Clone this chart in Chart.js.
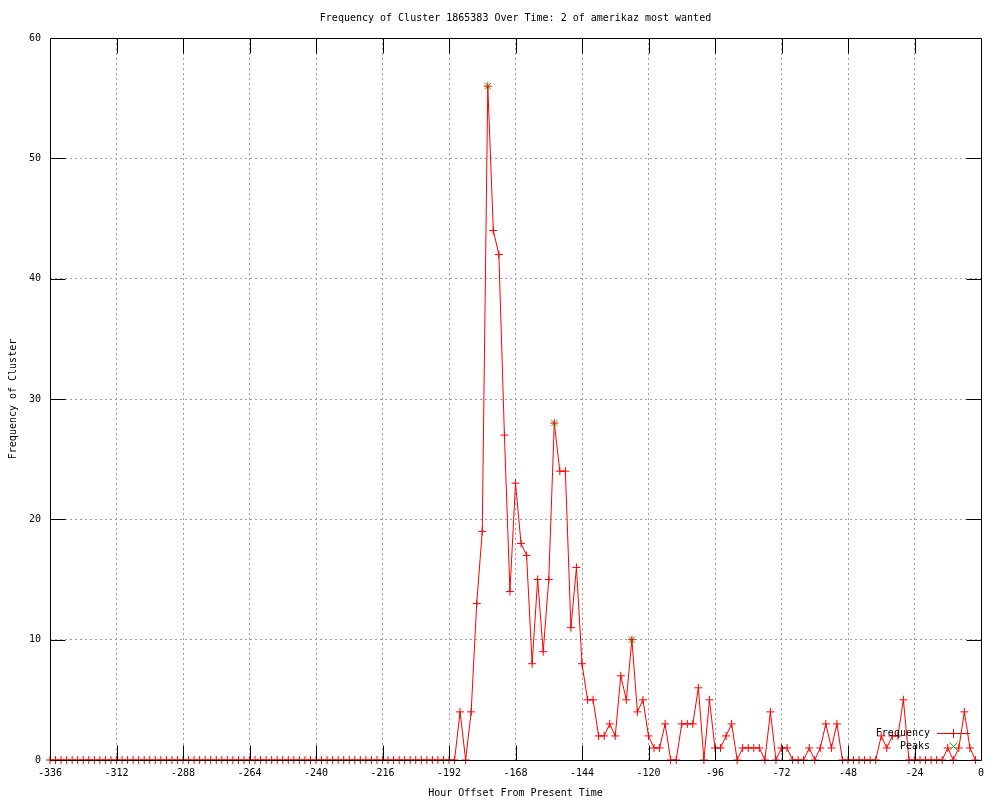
<!DOCTYPE html>
<html>
<head>
<meta charset="utf-8">
<title>Frequency of Cluster 1865383</title>
<script src="https://cdn.jsdelivr.net/npm/chart.js@4.4.1/dist/chart.umd.min.js"></script>
<style>
  html, body { margin: 0; padding: 0; background: #fff; }
  canvas { display: block; }
</style>
</head>
<body>
<canvas id="cluster-chart" width="1000" height="800"></canvas>
<script>
// hour offsets, one bin every 2 hours
const hours = [
  -336, -334, -332, -330, -328, -326, -324, -322, -320, -318, -316, -314, -312, -310,
  -308, -306, -304, -302, -300, -298, -296, -294, -292, -290, -288, -286, -284, -282,
  -280, -278, -276, -274, -272, -270, -268, -266, -264, -262, -260, -258, -256, -254,
  -252, -250, -248, -246, -244, -242, -240, -238, -236, -234, -232, -230, -228, -226,
  -224, -222, -220, -218, -216, -214, -212, -210, -208, -206, -204, -202, -200, -198,
  -196, -194, -192, -190, -188, -186, -184, -182, -180, -178, -176, -174, -172, -170,
  -168, -166, -164, -162, -160, -158, -156, -154, -152, -150, -148, -146, -144, -142,
  -140, -138, -136, -134, -132, -130, -128, -126, -124, -122, -120, -118, -116, -114,
  -112, -110, -108, -106, -104, -102, -100, -98, -96, -94, -92, -90, -88, -86,
  -84, -82, -80, -78, -76, -74, -72, -70, -68, -66, -64, -62, -60, -58,
  -56, -54, -52, -50, -48, -46, -44, -42, -40, -38, -36, -34, -32, -30,
  -28, -26, -24, -22, -20, -18, -16, -14, -12, -10, -8, -6, -4, -2
];

const frequency = [
  0, 0, 0, 0, 0, 0, 0, 0, 0, 0, 0, 0, 0, 0,
  0, 0, 0, 0, 0, 0, 0, 0, 0, 0, 0, 0, 0, 0,
  0, 0, 0, 0, 0, 0, 0, 0, 0, 0, 0, 0, 0, 0,
  0, 0, 0, 0, 0, 0, 0, 0, 0, 0, 0, 0, 0, 0,
  0, 0, 0, 0, 0, 0, 0, 0, 0, 0, 0, 0, 0, 0,
  0, 0, 0, 0, 4, 0, 4, 13, 19, 56, 44, 42, 27, 14,
  23, 18, 17, 8, 15, 9, 15, 28, 24, 24, 11, 16, 8, 5,
  5, 2, 2, 3, 2, 7, 5, 10, 4, 5, 2, 1, 1, 3,
  0, 0, 3, 3, 3, 6, 0, 5, 1, 1, 2, 3, 0, 1,
  1, 1, 1, 0, 4, 0, 1, 1, 0, 0, 0, 1, 0, 1,
  3, 1, 3, 0, 0, 0, 0, 0, 0, 0, 2, 1, 2, 2,
  5, 0, 0, 0, 0, 0, 0, 0, 1, 0, 1, 4, 1, 0
];

const peakHours = [-178, -154, -126];
const peakValues = [56, 28, 10];

const chartTitle = "Frequency of Cluster 1865383 Over Time: 2 of amerikaz most wanted";
const xTitle = "Hour Offset From Present Time";
const yTitle = "Frequency of Cluster";
const legendLabels = ["Frequency", "Peaks"];

const FONT = { family: "'DejaVu Sans Mono', 'Liberation Mono', monospace", size: 10, lineHeight: 1.2 };
const RED = "#ff0000";
const GREEN = "#00c000";
const GRID = "#a0a0a0";
const TIC = 15;

function gridColor(ctx) {
  const scale = ctx.scale;
  if (ctx.tick && (ctx.tick.value === scale.min || ctx.tick.value === scale.max)) {
    return "rgba(0,0,0,0)";
  }
  return GRID;
}

function drawKey(ctx) {
  const textRight = 930;
  const sampleLeft = 937;
  const sampleRight = 970;
  const mark = 953;
  const rows = [733, 746];

  ctx.save();
  ctx.setLineDash([]);
  ctx.globalAlpha = 1;
  ctx.globalCompositeOperation = "source-over";
  ctx.font = `${FONT.size}px ${FONT.family}`;
  ctx.fillStyle = "#000000";
  ctx.textAlign = "right";
  ctx.textBaseline = "middle";
  ctx.fillText(legendLabels[0], textRight, rows[0]);
  ctx.fillText(legendLabels[1], textRight, rows[1]);

  // line sample with its + mark
  ctx.fillStyle = RED;
  ctx.fillRect(sampleLeft, rows[0], sampleRight - sampleLeft, 1);
  ctx.fillRect(mark, rows[0] - 4, 1, 9);

  // peak sample: green x
  ctx.lineWidth = 1;
  ctx.strokeStyle = GREEN;
  ctx.beginPath();
  ctx.moveTo(mark - 3.5, rows[1] - 3.5);
  ctx.lineTo(mark + 4.5, rows[1] + 4.5);
  ctx.moveTo(mark + 4.5, rows[1] - 3.5);
  ctx.lineTo(mark - 3.5, rows[1] + 4.5);
  ctx.stroke();
  ctx.restore();
}

// gnuplot style frame with inward (mirrored) tics, then the key
const framePlugin = {
  id: "frame",
  afterDatasetsDraw(chart) {
    const { ctx, chartArea: area, scales: { x, y } } = chart;
    const left = Math.round(area.left) + 0.5;
    const top = Math.round(area.top) + 0.5;
    const right = Math.round(area.right) + 0.5;
    const bottom = Math.round(area.bottom) + 0.5;

    ctx.save();
    ctx.setLineDash([]);
    ctx.strokeStyle = "#000000";
    ctx.lineWidth = 1;
    ctx.beginPath();
    x.ticks.forEach((tick) => {
      if (tick.value <= x.min || tick.value >= x.max) return;
      const px = Math.round(x.getPixelForValue(tick.value)) + 0.5;
      ctx.moveTo(px, bottom);
      ctx.lineTo(px, bottom - TIC);
      ctx.moveTo(px, top);
      ctx.lineTo(px, top + TIC);
    });
    y.ticks.forEach((tick) => {
      if (tick.value <= y.min || tick.value >= y.max) return;
      const py = Math.round(y.getPixelForValue(tick.value)) + 0.5;
      ctx.moveTo(left, py);
      ctx.lineTo(left + TIC, py);
      ctx.moveTo(right, py);
      ctx.lineTo(right - TIC, py);
    });
    ctx.rect(left, top, right - left, bottom - top);
    ctx.stroke();
    ctx.restore();

    drawKey(ctx);
  }
};

const frequencyPoints = hours.map((hour, i) => ({ x: hour, y: frequency[i] }));
const peakPoints = peakHours.map((hour, i) => ({ x: hour, y: peakValues[i] }));

new Chart(document.getElementById("cluster-chart"), {
  type: "line",
  data: {
    datasets: [
      {
        label: legendLabels[0],
        data: frequencyPoints,
        borderColor: RED,
        borderWidth: 1,
        tension: 0,
        fill: false,
        pointStyle: "cross",
        pointRadius: 4,
        pointBorderColor: RED,
        pointBorderWidth: 1,
        clip: 8,
        order: 0
      },
      {
        label: legendLabels[1],
        data: peakPoints,
        showLine: false,
        pointStyle: "crossRot",
        pointRadius: 4.5,
        pointBorderColor: GREEN,
        pointBorderWidth: 1,
        clip: 8,
        order: 1
      }
    ]
  },
  options: {
    responsive: false,
    animation: false,
    events: [],
    layout: { padding: { left: 0, right: 19, top: 0, bottom: 0 } },
    plugins: {
      legend: { display: false },
      tooltip: { enabled: false },
      title: {
        display: true,
        text: chartTitle,
        color: "#000",
        fullSize: false,
        font: { ...FONT, weight: "normal" },
        padding: { top: 12, bottom: 14 }
      }
    },
    scales: {
      x: {
        type: "linear",
        min: -336,
        max: 0,
        afterFit(scale) { scale.height = 40; },
        ticks: {
          stepSize: 24,
          autoSkip: false,
          maxRotation: 0,
          color: "#000",
          padding: 7,
          font: FONT
        },
        grid: { color: gridColor, drawTicks: false, lineWidth: 1 },
        border: { display: false, dash: [2, 3] },
        title: {
          display: true,
          text: xTitle,
          color: "#000",
          font: FONT,
          padding: { top: 0, bottom: 1 }
        }
      },
      y: {
        type: "linear",
        min: 0,
        max: 60,
        afterFit(scale) { scale.width = 50; },
        ticks: {
          stepSize: 10,
          color: "#000",
          padding: 9,
          font: FONT
        },
        grid: { color: gridColor, drawTicks: false, lineWidth: 1 },
        border: { display: false, dash: [2, 3] },
        title: {
          display: true,
          text: yTitle,
          color: "#000",
          font: FONT,
          padding: { top: 7, bottom: 0 }
        }
      }
    }
  },
  plugins: [framePlugin]
});
</script>
</body>
</html>
